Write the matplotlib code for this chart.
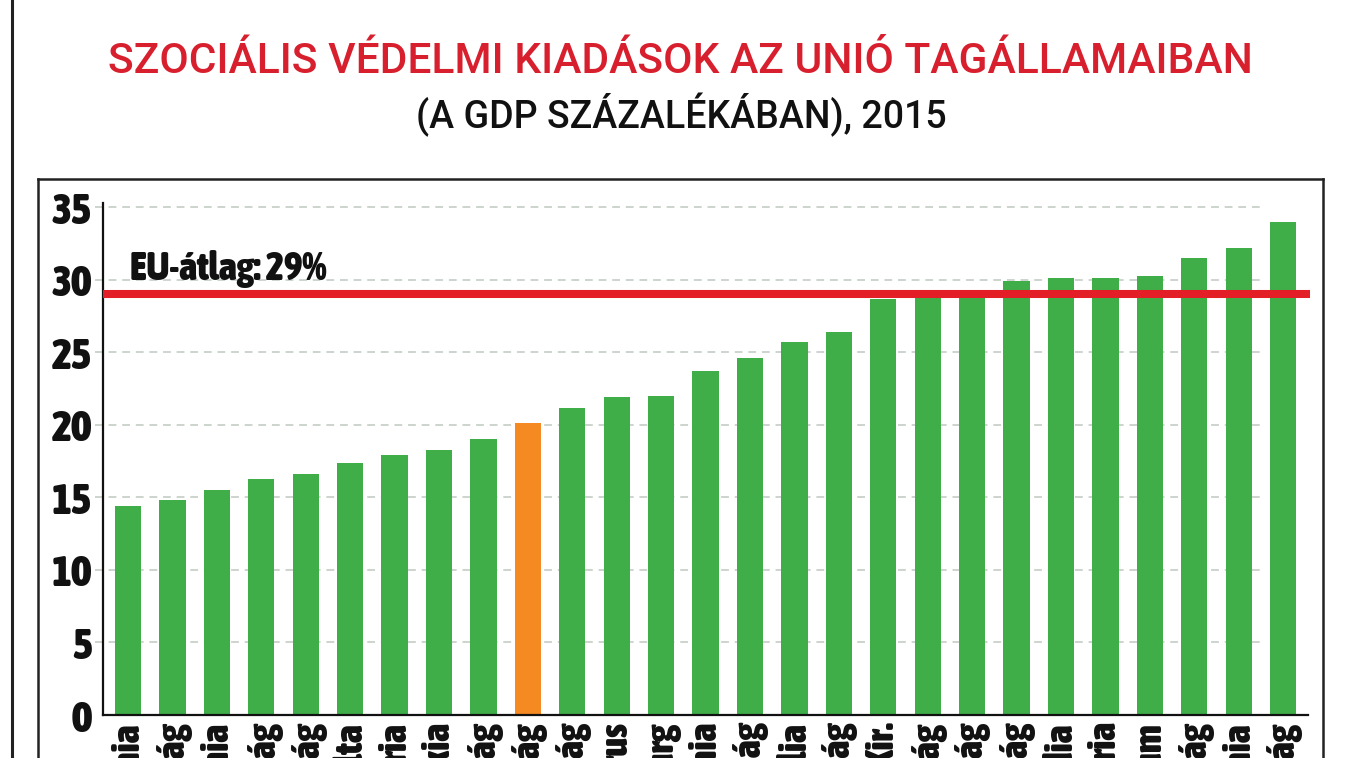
import numpy as np
import matplotlib
matplotlib.use("Agg")
import matplotlib.pyplot as plt
from matplotlib import font_manager as fm
from matplotlib.lines import Line2D

# Social protection expenditure, % of GDP, 2015
countries = ["Románia", "Lettország", "Litvánia", "Észtország", "Írország",
             "Málta", "Bulgária", "Szlovákia", "Lengyelország", "Magyarország",
             "Csehország", "Ciprus", "Luxemburg", "Szlovénia", "Spanyolország",
             "Portugália", "Görögország", "Egyesült Kir.", "Németország",
             "Svédország", "Olaszország", "Hollandia", "Ausztria", "Belgium",
             "Finnország", "Dánia", "Franciaország"]
values = [14.4, 14.8, 15.5, 16.3, 16.6, 17.4, 17.9, 18.3, 19.0, 20.1,
          21.2, 21.9, 22.0, 23.7, 24.6, 25.7, 26.4, 28.7, 29.0, 29.2,
          29.9, 30.1, 30.1, 30.3, 31.5, 32.2, 34.0]
highlight = "Magyarország"
eu_avg = 29
yticks = [0, 5, 10, 15, 20, 25, 30, 35]

W, H = 1347, 758
green = "#3fae49"
orange = "#f58a22"
red_line = "#e31e26"
red_title = "#d81f2e"


def find_font(min_weight=600):
    # look for a condensed / narrow face among the installed fonts
    best = None
    for f in fm.fontManager.ttflist:
        name = f.name.lower()
        fn = f.fname.lower()
        st = str(f.stretch).lower()
        narrow = ("condensed" in st or "narrow" in name or "condensed" in name
                  or "narrow" in fn or "condensed" in fn)
        if not narrow or "oblique" in fn or "italic" in fn:
            continue
        w = f.weight if isinstance(f.weight, int) else fm.weight_dict.get(f.weight, 400)
        score = abs(w - min_weight)
        if best is None or score < best[0]:
            best = (score, f.fname)
    if best:
        return fm.FontProperties(fname=best[1])
    return fm.FontProperties(family="DejaVu Sans", weight="bold")


heavy = find_font(900)
title_font = fm.FontProperties(family=["Roboto", "DejaVu Sans"], weight="medium")
sub_font = fm.FontProperties(family=["Roboto", "DejaVu Sans"], weight="medium")

fig = plt.figure(figsize=(W / 100, H / 100), dpi=100)
ax = fig.add_axes([103 / W, 1 - 715 / H, (1308 - 103) / W, (715 - 203) / H])

x = np.arange(len(countries))
colors = [orange if c == highlight else green for c in countries]
ax.bar(x, values, width=0.59, color=colors, zorder=2)
ax.set_xlim(-0.563, 26.56)
ax.set_ylim(0, 35.3)

# dashed grid lines, bars drawn over them
ax.hlines(yticks[1:], -0.74, 25.6, colors="#cdd3cd", linestyles=(0, (4, 3)),
          lw=1.4, zorder=1, clip_on=False)

# EU average line
ax.hlines(eu_avg, -0.563, 26.6, colors=red_line, lw=5.8, zorder=3, clip_on=False)
eu_txt = ax.text(0.045, 30.0, f"EU-átlag: {eu_avg}%", fontproperties=heavy,
                 fontsize=27, va="baseline", ha="left", color="#111111", zorder=4)

for s in ["top", "right"]:
    ax.spines[s].set_visible(False)
for s in ["left", "bottom"]:
    ax.spines[s].set_linewidth(1.6)
    ax.spines[s].set_color("#111111")

ax.set_yticks(yticks)
ax.set_yticklabels([str(t) for t in yticks], fontproperties=heavy, fontsize=31)
ax.set_xticks(x)
ax.set_xticklabels(countries, fontproperties=heavy, fontsize=28, rotation=90,
                   va="top", ha="center")
ax.tick_params(axis="y", length=0, pad=8, colors="#111111")
ax.tick_params(axis="x", length=0, pad=5, colors="#111111")

# titles
title = fig.text(680 / W, 1 - 73 / H, "SZOCIÁLIS VÉDELMI KIADÁSOK AZ UNIÓ TAGÁLLAMAIBAN",
                 fontproperties=title_font, fontsize=28.4, color=red_title,
                 ha="center", va="baseline")
sub = fig.text(681 / W, 1 - 128 / H, "(A GDP SZÁZALÉKÁBAN), 2015",
               fontproperties=sub_font, fontsize=25, color="#111111",
               ha="center", va="baseline")

# nudge text widths toward the original, without changing the height much
renderer = fig.canvas.get_renderer()
for t, target, lo, hi in [(title, 1144, 0.92, 1.08), (sub, 543, 0.92, 1.08),
                          (eu_txt, 196, 0.5, 2.0)]:
    bb = t.get_window_extent(renderer)
    k = min(max(target / bb.width, lo), hi)
    t.set_fontsize(t.get_fontsize() * k)

# frame lines
def fline(x0, y0, x1, y1, lw, color="#222222"):
    fig.add_artist(Line2D([x0 / W, x1 / W], [1 - y0 / H, 1 - y1 / H],
                          transform=fig.transFigure, color=color, lw=lw))

fline(12, 0, 12, H, 2.2)
fline(38, 179, 1323, 179, 1.8)
fline(38, 179, 38, H, 1.8)
fline(1323, 179, 1323, H, 1.8)

fig.savefig("out.png", dpi=100)
